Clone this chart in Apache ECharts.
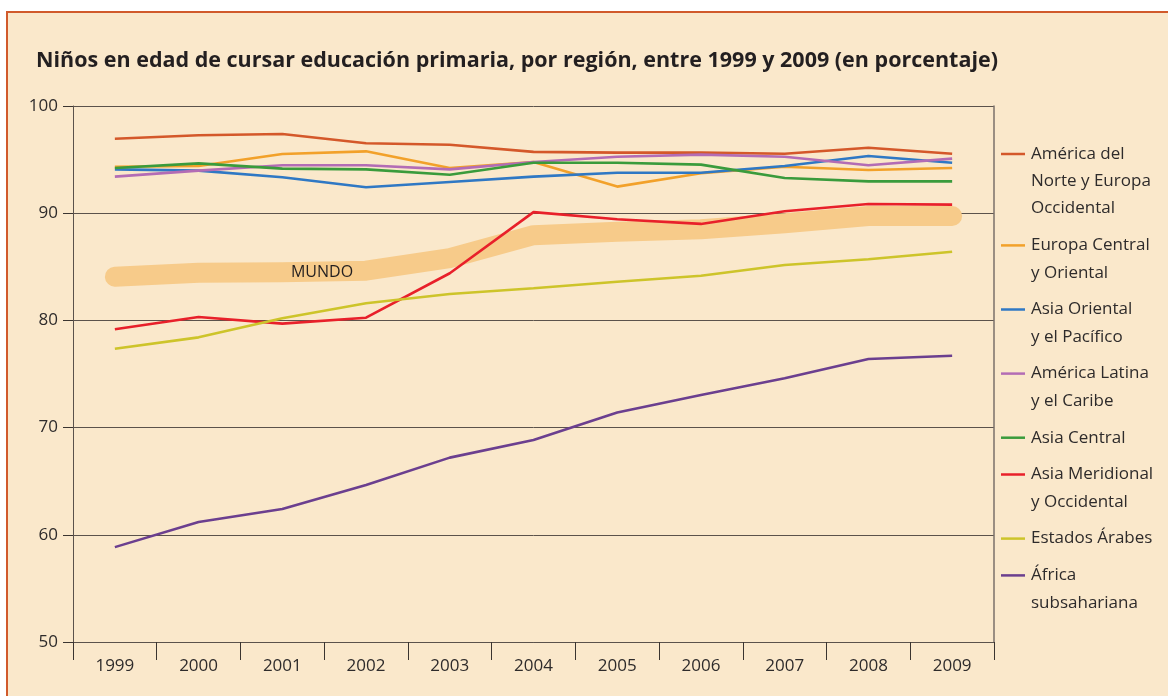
<!DOCTYPE html>
<html>
<head>
<meta charset="utf-8">
<script src="https://cdn.jsdelivr.net/npm/echarts@6/dist/echarts.min.js"></script>
<style>
html,body{margin:0;padding:0;background:#ffffff;}
#chart{width:1168px;height:696px;}
</style>
</head>
<body>
<div id="chart"></div>
<script>
const years = ['1999','2000','2001','2002','2003','2004','2005','2006','2007','2008','2009'];
const yTicks = [50, 60, 70, 80, 90, 100];

const americaNorte   = [96.95, 97.27, 97.39, 96.52, 96.39, 95.72, 95.65, 95.65, 95.55, 96.11, 95.55];
const europaCentral  = [94.34, 94.40, 95.52, 95.77, 94.22, 94.78, 92.48, 93.72, 94.34, 94.03, 94.22];
const asiaOriental   = [94.09, 93.97, 93.35, 92.42, 92.91, 93.41, 93.78, 93.78, 94.40, 95.34, 94.71];
const americaLatina  = [93.41, 93.97, 94.47, 94.47, 94.09, 94.78, 95.27, 95.46, 95.27, 94.47, 95.09];
const asiaCentral    = [94.22, 94.65, 94.16, 94.09, 93.59, 94.71, 94.71, 94.53, 93.28, 92.97, 92.97];
const asiaMeridional = [79.17, 80.32, 79.70, 80.25, 84.40, 90.10, 89.43, 89.00, 90.18, 90.86, 90.80];
const estadosArabes  = [77.36, 78.42, 80.20, 81.60, 82.46, 83.00, 83.60, 84.17, 85.17, 85.70, 86.41];
const africaSub      = [58.85, 61.20, 62.40, 64.65, 67.20, 68.85, 71.40, 73.05, 74.60, 76.40, 76.70];
const mundo          = [84.08, 84.45, 84.50, 84.64, 85.80, 87.95, 88.28, 88.50, 89.06, 89.74, 89.74];

const seriesNames = [
  'América del\nNorte y Europa\nOccidental',
  'Europa Central\ny Oriental',
  'Asia Oriental\ny el Pacífico',
  'América Latina\ny el Caribe',
  'Asia Central',
  'Asia Meridional\ny Occidental',
  'Estados Árabes',
  'África\nsubsahariana'
];
const seriesData = [americaNorte, europaCentral, asiaOriental, americaLatina, asiaCentral, asiaMeridional, estadosArabes, africaSub];
const seriesColors = ['#D4582A', '#F2A12A', '#2F78C4', '#B36CB5', '#3A9B3C', '#E8202A', '#CDC42A', '#6B3F8F'];
const mundoLabel = 'MUNDO';
const titleText = 'Niños en edad de cursar educación primaria, por región, entre 1999 y 2009 (en porcentaje)';

const FONT = '"Open Sans", "Noto Sans", sans-serif';
const chart = echarts.init(document.getElementById('chart'));

const legendEls = [];
let ly = 154;
const LH = 27.3, GAP = 9.5;
seriesNames.forEach((n, i) => {
  legendEls.push({
    type: 'line', shape: {x1: 1001, y1: ly, x2: 1025, y2: ly},
    style: {stroke: seriesColors[i], lineWidth: 2.5}, z: 10
  });
  legendEls.push({
    type: 'text', x: 1031, y: ly - LH / 2,
    style: {text: n, font: '17px ' + FONT, fill: '#2e2b2b', lineHeight: LH, verticalAlign: 'top', align: 'left'},
    z: 10
  });
  const lines = n.split('\n').length;
  ly += lines * LH + GAP;
});

const series = [{
  name: 'MUNDO', type: 'line', data: mundo, symbol: 'none', silent: true,
  lineStyle: {color: '#F7CB8A', width: 20, cap: 'round', join: 'round'}, z: 1
}];
seriesNames.forEach((n, i) => {
  series.push({
    name: n, type: 'line', data: seriesData[i], symbol: 'none',
    lineStyle: {color: seriesColors[i], width: 2.6}, z: 3 + i
  });
});

chart.setOption({
  animation: false,
  backgroundColor: '#ffffff',
  title: {
    text: titleText, left: 36, top: 50, padding: 0,
    textStyle: {fontFamily: FONT, fontSize: 21.5, fontWeight: 'bold', color: '#231f20'}
  },
  grid: {left: 73, right: 174, top: 106, bottom: 54},
  xAxis: {
    type: 'category', data: years, boundaryGap: true,
    axisLine: {show: true, lineStyle: {color: '#5b524b', width: 1}},
    axisTick: {show: true, length: 18, lineStyle: {color: '#3a3430', width: 1}},
    axisLabel: {fontFamily: FONT, fontSize: 17, color: '#2e2b2b', margin: 16}
  },
  yAxis: [{
    type: 'value', min: yTicks[0], max: yTicks[yTicks.length - 1], interval: 10,
    axisLine: {show: true, lineStyle: {color: '#5b524b', width: 1}},
    axisTick: {show: true, length: 10, lineStyle: {color: '#3a3430', width: 1}},
    axisLabel: {fontFamily: FONT, fontSize: 17, color: '#2e2b2b', margin: 15},
    splitLine: {show: true, lineStyle: {color: '#5b524b', width: 1}}
  }, {
    type: 'value', position: 'right', min: yTicks[0], max: yTicks[yTicks.length - 1], interval: 10,
    axisLine: {show: true, lineStyle: {color: '#7a706a', width: 1.5}},
    axisTick: {show: false}, axisLabel: {show: false}, splitLine: {show: false}
  }],
  series: series,
  graphic: [
    {type: 'rect', shape: {x: 7, y: 12, width: 1300, height: 800},
     style: {fill: '#FAE8CB', stroke: '#D15A2B', lineWidth: 2}, z: -10, silent: true},
    {type: 'text', x: 322, y: 272,
     style: {text: mundoLabel, font: '500 16px ' + FONT, fill: '#231f20', align: 'center', verticalAlign: 'middle'},
     z: 20}
  ].concat(legendEls)
});
</script>
</body>
</html>
